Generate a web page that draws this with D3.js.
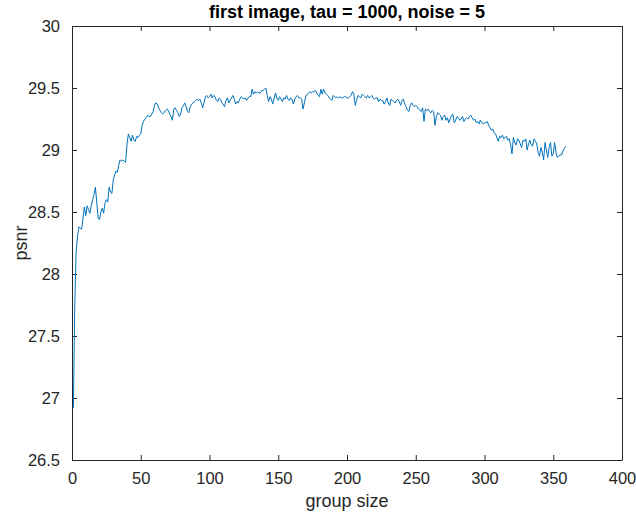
<!DOCTYPE html>
<html lang="en">
<head>
    <meta charset="UTF-8">
    <title>psnr vs group size</title>
    <script src="https://d3js.org/d3.v7.js"></script>
    <style>
        body{
            margin: 0;
            background-color: #ffffff;
            font-family: 'Liberation Sans', Arial, sans-serif;
        }
        .tick text{
            fill: #262626;
            font-size: 16.5px;
        }
    </style>
</head>
<body>
    <div class="chart"></div>

    <script>

        //chart texts
        var titleText = "first image, tau = 1000, noise = 5";
        var xLabel = "group size";
        var yLabel = "psnr";

        //tick values
        var xTicks = [0, 50, 100, 150, 200, 250, 300, 350, 400];
        var yTicks = [26.5, 27, 27.5, 28, 28.5, 29, 29.5, 30];

        //psnr for group size 1, 2, 3 ...
        var psnr = [
            26.92, 27.75, 28.18, 28.30, 28.38, 28.37, 28.36, 28.45, 28.54, 28.47,
            28.55, 28.52, 28.49, 28.55, 28.60, 28.64, 28.70, 28.58, 28.45, 28.44,
            28.50, 28.53, 28.49, 28.57, 28.60, 28.58, 28.70, 28.66, 28.65, 28.76,
            28.80, 28.83, 28.82, 28.88, 28.92, 28.91, 28.92, 28.91, 28.90, 29.05,
            29.13, 29.10, 29.07, 29.12, 29.08, 29.07, 29.11, 29.10, 29.12, 29.13,
            29.20, 29.23, 29.25, 29.26, 29.28, 29.27, 29.27, 29.29, 29.31, 29.36,
            29.38, 29.37, 29.34, 29.32, 29.30, 29.29, 29.30, 29.32, 29.33, 29.32,
            29.29, 29.27, 29.24, 29.33, 29.34, 29.32, 29.30, 29.27, 29.29, 29.34,
            29.36, 29.38, 29.35, 29.31, 29.30, 29.35, 29.37, 29.38, 29.39, 29.40,
            29.41, 29.40, 29.41, 29.38, 29.34, 29.38, 29.43, 29.44, 29.42, 29.43,
            29.45, 29.42, 29.44, 29.43, 29.40, 29.39, 29.42, 29.41, 29.38, 29.37,
            29.35, 29.40, 29.42, 29.38, 29.40, 29.42, 29.44, 29.41, 29.37, 29.39,
            29.38, 29.41, 29.43, 29.42, 29.41, 29.42, 29.40, 29.42, 29.43, 29.43,
            29.49, 29.45, 29.47, 29.46, 29.47, 29.46, 29.46, 29.48, 29.48, 29.49,
            29.50, 29.44, 29.39, 29.43, 29.41, 29.37, 29.42, 29.46, 29.42, 29.40,
            29.43, 29.41, 29.39, 29.42, 29.41, 29.44, 29.41, 29.40, 29.42, 29.41,
            29.37, 29.41, 29.43, 29.44, 29.42, 29.42, 29.41, 29.33, 29.38, 29.43,
            29.45, 29.46, 29.47, 29.46, 29.47, 29.47, 29.48, 29.46, 29.44, 29.43,
            29.49, 29.45, 29.49, 29.46, 29.45, 29.44, 29.42, 29.41, 29.40, 29.44,
            29.43, 29.42, 29.43, 29.42, 29.43, 29.42, 29.42, 29.43, 29.43, 29.42,
            29.42, 29.43, 29.44, 29.47, 29.45, 29.36, 29.40, 29.44, 29.43, 29.42,
            29.45, 29.44, 29.43, 29.42, 29.44, 29.42, 29.43, 29.44, 29.42, 29.41,
            29.42, 29.42, 29.39, 29.41, 29.40, 29.40, 29.37, 29.39, 29.42, 29.38,
            29.36, 29.41, 29.40, 29.39, 29.38, 29.40, 29.41, 29.39, 29.36, 29.40,
            29.41, 29.37, 29.35, 29.32, 29.31, 29.36, 29.38, 29.36, 29.35, 29.36,
            29.35, 29.33, 29.32, 29.31, 29.34, 29.23, 29.33, 29.32, 29.33, 29.31,
            29.30, 29.32, 29.31, 29.20, 29.27, 29.30, 29.29, 29.28, 29.24, 29.27,
            29.28, 29.24, 29.26, 29.22, 29.25, 29.28, 29.29, 29.22, 29.24, 29.27,
            29.26, 29.24, 29.25, 29.27, 29.23, 29.25, 29.26, 29.25, 29.27, 29.28,
            29.26, 29.24, 29.25, 29.22, 29.23, 29.21, 29.24, 29.22, 29.21, 29.22,
            29.22, 29.23, 29.20, 29.18, 29.16, 29.17, 29.14, 29.13, 29.10, 29.07,
            29.11, 29.10, 29.12, 29.09, 29.10, 29.11, 29.08, 29.09, 29.04, 28.97,
            29.10, 29.06, 29.04, 29.09, 29.08, 29.05, 29.02, 29.08, 29.07, 29.09,
            29.00, 29.05, 29.08, 29.04, 29.03, 29.09, 29.07, 29.05, 28.98, 28.95,
            29.02, 28.98, 28.92, 29.06, 29.00, 28.94, 29.02, 29.06, 28.95, 28.97,
            29.06, 28.98, 28.94, 28.95, 28.96, 28.96, 28.99, 29.01, 29.03
        ];

        //setup dimensions
        var width = 636,
            height = 516,
            margin = {top:26, right:14, bottom:56, left:72};

        //setup canvas
        var svg = d3.select(".chart")
            .append("svg")
            .attr("width", width)
            .attr("height", height)
            .style("display", "block");

        var xScale = d3.scaleLinear()
            .domain([0, 400])
            .range([margin.left, width - margin.right]);

        var yScale = d3.scaleLinear()
            .domain([26.5, 30])
            .range([height - margin.bottom, margin.top]);

        //bottom axis
        svg.append("g")
            .attr("transform", "translate(0," + (height - margin.bottom) + ")")
            .call(d3.axisBottom(xScale).tickValues(xTicks).tickSizeInner(-5).tickSizeOuter(0).tickPadding(12))

        //top axis, ticks only
        svg.append("g")
            .attr("transform", "translate(0," + margin.top + ")")
            .call(d3.axisTop(xScale).tickValues(xTicks).tickSizeInner(-5).tickSizeOuter(0).tickFormat(""))

        //left axis
        svg.append("g")
            .attr("transform", "translate(" + margin.left + ",0)")
            .call(d3.axisLeft(yScale).tickValues(yTicks).tickSizeInner(-5).tickSizeOuter(0).tickPadding(12).tickFormat(d3.format("")))

        //right axis, ticks only
        svg.append("g")
            .attr("transform", "translate(" + (width - margin.right) + ",0)")
            .call(d3.axisRight(yScale).tickValues(yTicks).tickSizeInner(-5).tickSizeOuter(0).tickFormat(""))

        svg.selectAll(".domain, .tick line")
            .attr("stroke", "#262626")

        //the line
        var line = d3.line()
            .x(function(d, i){ return xScale(i + 1) })
            .y(function(d){ return yScale(d) });

        svg.append("path")
            .datum(psnr)
            .attr("fill", "none")
            .attr("stroke", "#0072bd")
            .attr("stroke-width", 1)
            .attr("d", line);

        //title and labels
        svg.append("text")
            .attr("x", (margin.left + width - margin.right) / 2)
            .attr("y", 18)
            .attr("text-anchor", "middle")
            .style("font-size", "18px")
            .style("font-weight", "bold")
            .attr("fill", "#000000")
            .text(titleText);

        svg.append("text")
            .attr("x", (margin.left + width - margin.right) / 2)
            .attr("y", 507)
            .attr("text-anchor", "middle")
            .style("font-size", "18px")
            .attr("fill", "#262626")
            .text(xLabel);

        svg.append("text")
            .attr("transform", "translate(27," + ((margin.top + height - margin.bottom) / 2) + ") rotate(-90)")
            .attr("text-anchor", "middle")
            .style("font-size", "18px")
            .attr("fill", "#262626")
            .text(yLabel);

    </script>

</body>
</html>
